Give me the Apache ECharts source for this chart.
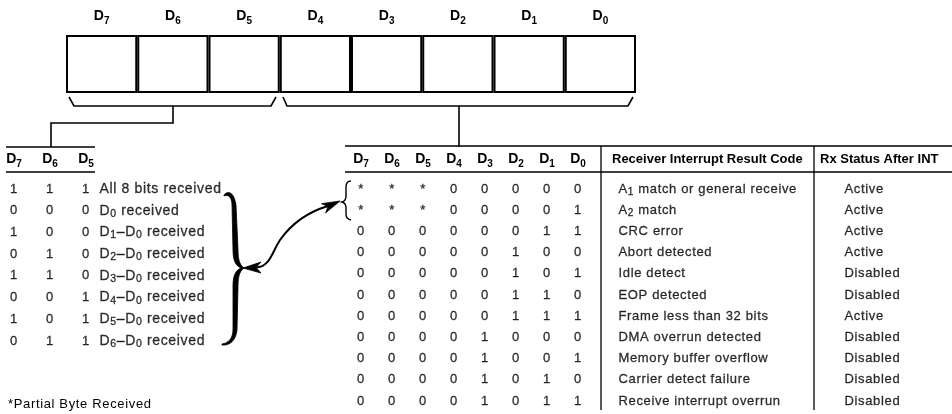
<!DOCTYPE html>
<html><head><meta charset="utf-8">
<script src="https://cdn.jsdelivr.net/npm/echarts@6/dist/echarts.min.js"></script>
<style>html,body{margin:0;padding:0;background:#fff}#c{width:952px;height:414px}</style>
</head><body><div id="c"></div>
<script>
// ---------------- data ----------------
const regBits = ['D7','D6','D5','D4','D3','D2','D1','D0'];
const regBoxes = [1,1,1,1,1,1,1,1];

const partialCols = ['D7','D6','D5'];
const partialBits = ['111','000','100','010','110','001','101','011'];
const partialDesc = ['All 8 bits received','D_0 received','D_1–D_0 received','D_2–D_0 received',
  'D_3–D_0 received','D_4–D_0 received','D_5–D_0 received','D_6–D_0 received'];

const resultCols = ['D7','D6','D5','D4','D3','D2','D1','D0'];
const resultBits = ['***00000','***00001','00000011','00000100','00000101','00000110',
  '00000111','00001000','00001001','00001010','00001011'];
const resultCodes = ['A_1 match or general receive','A_2 match','CRC error','Abort detected','Idle detect',
  'EOP detected','Frame less than 32 bits','DMA overrun detected','Memory buffer overflow',
  'Carrier detect failure','Receive interrupt overrun'];
const rxStatus = ['Active','Active','Active','Active','Disabled','Disabled','Active','Disabled',
  'Disabled','Disabled','Disabled'];

const headerCode = 'Receiver Interrupt Result Code';
const headerStatus = 'Rx Status After INT';
const footnote = '*Partial Byte Received';

// looser tracking for the regular (non-bold) typeface, as in the printed original
(function () {
  const P = window.CanvasRenderingContext2D && CanvasRenderingContext2D.prototype;
  if (!P || !('letterSpacing' in P)) return;
  const sp = ctx => { ctx.letterSpacing = /bold/.test(ctx.font) ? '0px' : '0.65px'; };
  ['fillText', 'strokeText', 'measureText'].forEach(k => {
    const f = P[k];
    P[k] = function () { sp(this); return f.apply(this, arguments); };
  });
})();

// ---------------- styling ----------------
const INK = '#000';
const FONT = "'Liberation Sans', Arial, Helvetica, sans-serif";
const TB = {textBorderColor: INK, textBorderWidth: 0.3};
const RICH = {
  h: {fontFamily: FONT, fontSize: 14, fontWeight: 'bold', color: INK, lineHeight: 20, verticalAlign: 'middle'},
  hs: {fontFamily: FONT, fontSize: 10, fontWeight: 'bold', color: INK, lineHeight: 10, verticalAlign: 'bottom'},
  t: {fontFamily: FONT, fontSize: 13, color: INK, lineHeight: 17, verticalAlign: 'middle', ...TB},
  ts: {fontFamily: FONT, fontSize: 10, color: INK, lineHeight: 10, verticalAlign: 'bottom', ...TB},
  l: {fontFamily: FONT, fontSize: 14, color: INK, lineHeight: 18, verticalAlign: 'middle', ...TB},
  ls: {fontFamily: FONT, fontSize: 10.5, color: INK, lineHeight: 10, verticalAlign: 'bottom', ...TB}
};
function toRich(s, m, sub) {
  return s.split(/(_\d)/).filter(p => p !== '').map(p =>
    p[0] === '_' ? '{' + sub + '|' + p.slice(1) + '}' : '{' + m + '|' + p + '}').join('');
}
const headFmt = v => '{h|' + v[0] + '}{hs|' + v.slice(1) + '}';

function cells(rows) {
  const pts = [], lbl = [];
  rows.forEach((row, r) => row.split('').forEach((ch, c) => { pts.push([c, r]); lbl.push(ch); }));
  return {pts, lbl};
}
const pc = cells(partialBits);
const rc = cells(resultBits);

const hidden = {color: 'rgba(0,0,0,0)'};
const cellLabel = lbl => ({show: true, position: 'inside', formatter: p => lbl[p.dataIndex],
  fontFamily: FONT, fontSize: 13, color: INK, ...TB});
const topAxis = (gi, data, margin, boundary) => ({
  gridIndex: gi, type: 'category', data, position: 'top', boundaryGap: boundary,
  axisLine: {show: false}, axisTick: {show: false}, splitLine: {show: false},
  axisLabel: {interval: 0, margin, verticalAlign: 'middle', formatter: headFmt, rich: RICH}
});
const rowAxis = (gi, n) => ({gridIndex: gi, type: 'category', data: Array.from({length: n}, (_, i) => i),
  inverse: true, boundaryGap: false, show: false});

// decorations (brackets, rules, braces, arrow)
const S = {stroke: INK, lineWidth: 1.6, fill: null, lineCap: 'butt', lineJoin: 'miter'};
const decor = [
  {d: 'M69 97 L74 106 L271 106 L276 97', s: S},
  {d: 'M173 106 L173 123 L51 123 L51 147', s: S},
  {d: 'M283 97 L287 106 L628 106 L633 97', s: S},
  {d: 'M459 106 L459 147', s: S},
  {d: 'M6 147 L95 147 M6 172 L95 172', s: S},
  {d: 'M345 146 L952 146 M345 172 L952 172', s: S},
  {d: 'M601 146 L601 410 M814 146 L814 410', s: {...S, lineWidth: 1.3}},
  // big right brace
  {d: 'M224 195 C228 190 234 192 236 205 L238 250 C238 262 241 266 244 268 C241 270 238 274 238 286 L237 330 C236 340 230 346 222 345 ' +
      'L222 344 C229 343 233 338 233 329 L233 286 C233 275 236 270 241 268 C236 266 233 261 233 250 L232 205 C232 197 228 194 224 196 Z',
   s: {fill: INK, stroke: INK, lineWidth: 0.8}},
  // small left brace
  {d: 'M351 181 Q346 181 346 187 L346 196 Q346 201 342 202 Q346 203 346 208 L346 214 Q346 219 351 220', s: {...S, lineWidth: 1.4}},
  // arrow curve
  {d: 'M256 267.5 C270 267 272 252 280 240 C292 223 308 212 328 206', s: {...S, lineWidth: 2}},
  {d: 'M243 268 L261 262 L256 267.5 L261 273 Z', s: {fill: INK, stroke: INK, lineWidth: 0.8}},
  {d: 'M340 201 L321.6 203.7 L328.1 206.3 L325.6 212.9 Z', s: {fill: INK, stroke: INK, lineWidth: 0.8}}
];

const option = {
  animation: false,
  backgroundColor: '#fff',
  grid: [
    {left: 66, top: 35, width: 570, height: 58, outerBoundsMode: 'none'},
    {left: 14, top: 189, width: 72, height: 152, outerBoundsMode: 'none'},
    {left: 361, top: 189, width: 217, height: 212, outerBoundsMode: 'none'}
  ],
  xAxis: [
    topAxis(0, regBits, 19, true),
    topAxis(1, partialCols, 30, false),
    topAxis(2, resultCols, 30, false)
  ],
  yAxis: [
    {gridIndex: 0, type: 'value', min: 0, max: 1, show: false},
    rowAxis(1, partialBits.length),
    rowAxis(2, resultBits.length)
  ],
  graphic: [
    {type: 'text', x: 612, y: 159, silent: true, style: {text: headerCode, fontFamily: FONT, fontSize: 13, fontWeight: 'bold', fill: INK, verticalAlign: 'middle'}},
    {type: 'text', x: 820, y: 159, silent: true, style: {text: headerStatus, fontFamily: FONT, fontSize: 13, fontWeight: 'bold', fill: INK, verticalAlign: 'middle'}},
    {type: 'text', x: 8, y: 404, silent: true, style: {text: footnote, fontFamily: FONT, fontSize: 13, fill: INK, verticalAlign: 'middle'}}
  ],
  series: [
    {type: 'bar', xAxisIndex: 0, yAxisIndex: 0, data: regBoxes, barWidth: '100%', silent: true,
     itemStyle: {color: '#fff', borderColor: INK, borderWidth: 2}},
    {type: 'scatter', xAxisIndex: 1, yAxisIndex: 1, data: pc.pts, symbolSize: 1, itemStyle: hidden, silent: true,
     label: cellLabel(pc.lbl)},
    {type: 'scatter', xAxisIndex: 1, yAxisIndex: 1, data: partialDesc.map((d, r) => [2, r]), symbolSize: 1, itemStyle: hidden, silent: true,
     label: {show: true, position: 'right', distance: 13, formatter: p => toRich(partialDesc[p.dataIndex], 'l', 'ls'), rich: RICH}},
    {type: 'scatter', xAxisIndex: 2, yAxisIndex: 2, data: rc.pts, symbolSize: 1, itemStyle: hidden, silent: true,
     label: cellLabel(rc.lbl)},
    {type: 'scatter', xAxisIndex: 2, yAxisIndex: 2, data: resultCodes.map((d, r) => [7, r]), symbolSize: 1, itemStyle: hidden, silent: true,
     label: {show: true, position: 'right', distance: 40, formatter: p => toRich(resultCodes[p.dataIndex], 't', 'ts'), rich: RICH}},
    {type: 'scatter', xAxisIndex: 2, yAxisIndex: 2, data: rxStatus.map((d, r) => [7, r]), symbolSize: 1, itemStyle: hidden, silent: true,
     label: {show: true, position: 'right', distance: 266, formatter: p => rxStatus[p.dataIndex], fontFamily: FONT, fontSize: 13, color: INK, ...TB}},
    {type: 'custom', coordinateSystem: 'none', data: [0], silent: true,
     renderItem: () => ({type: 'group', children: decor.map(o => ({type: 'path', shape: {pathData: o.d}, style: o.s}))})}
  ]
};
const chart = echarts.init(document.getElementById('c'), null, {renderer: 'canvas'});
chart.setOption(option);
</script></body></html>
